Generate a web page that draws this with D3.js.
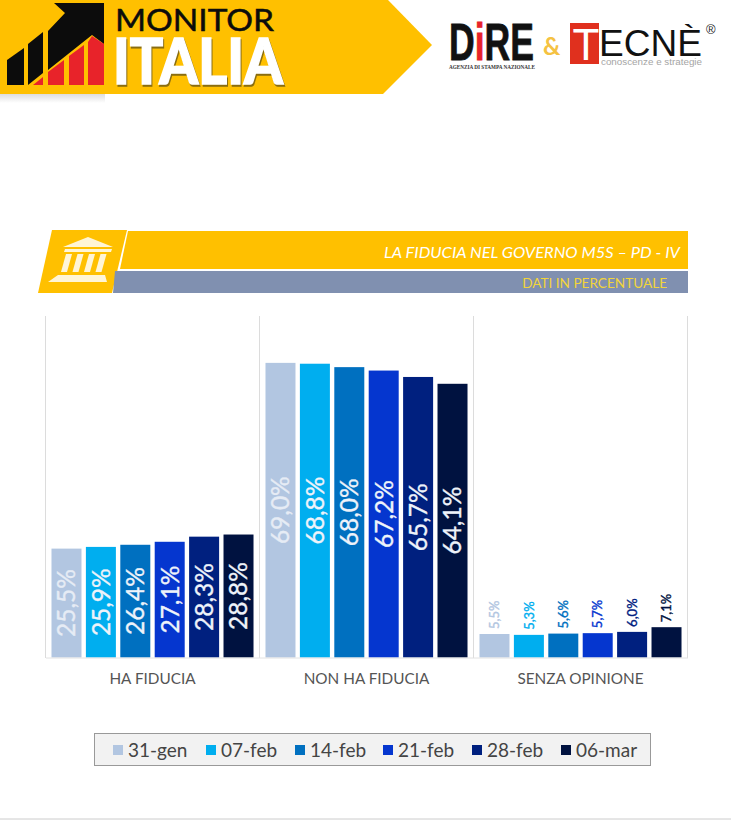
<!DOCTYPE html>
<html>
<head>
<meta charset="utf-8">
<script src="https://cdn.jsdelivr.net/npm/d3@7"></script>
<style>
html, body { margin: 0; padding: 0; background: #fff; }
svg { display: block; }
text { font-family: Lato, "Open Sans", sans-serif; }
</style>
</head>
<body>
<svg class="main" width="731" height="820"></svg>
<script>
var categories = ["HA FIDUCIA", "NON HA FIDUCIA", "SENZA OPINIONE"];
var dates = ["31-gen", "07-feb", "14-feb", "21-feb", "28-feb", "06-mar"];
var colors = ["#b2c6e1", "#00aeef", "#0070c0", "#0536cf", "#00207f", "#001240"];
var haFiducia = [25.5, 25.9, 26.4, 27.1, 28.3, 28.8];
var nonHaFiducia = [69.0, 68.8, 68.0, 67.2, 65.7, 64.1];
var senzaOpinione = [5.5, 5.3, 5.6, 5.7, 6.0, 7.1];
var legendX = [113, 206, 295, 383, 472, 561];

var series = [haFiducia, nonHaFiducia, senzaOpinione];
var yellow = "#ffc000";

var main = d3.select(".main");
var fmt = function(v) { return v.toFixed(1).replace(".", ",") + "%"; };

function poly(parent, pts, fill) {
    return parent.append("polygon")
        .attr("points", pts.map(function(p) { return p.join(","); }).join(" "))
        .attr("fill", fill);
}

/**
 * Header banner
 */
var header = main.append("g");
var defs = main.append("defs");
var shadow = defs.append("linearGradient").attr("id", "headShadow")
    .attr("x1", 0).attr("y1", 0).attr("x2", 0).attr("y2", 1);
shadow.append("stop").attr("offset", 0).attr("stop-color", "#bbb").attr("stop-opacity", 0.5);
shadow.append("stop").attr("offset", 1).attr("stop-color", "#bbb").attr("stop-opacity", 0);

header.append("rect").attr("x", 0).attr("y", 94).attr("width", 105).attr("height", 9)
    .attr("fill", "url(#headShadow)");
poly(header, [[0, 0], [388, 0], [432, 45], [383, 94], [0, 94]], yellow);

poly(header, [[7, 60], [24, 48], [24, 85], [7, 85]], "#0c0c0c");
poly(header, [[28, 44], [43, 32], [43, 73], [28, 85]], "#0c0c0c");
poly(header, [[48, 31], [65, 13], [54, 3], [104, 3], [104, 44], [92, 35], [48, 70]], "#0c0c0c");
poly(header, [[33, 85], [43, 77], [43, 85]], "#e8232a");
poly(header, [[48, 85], [48, 72], [64, 60], [64, 85]], "#e8232a");
poly(header, [[69, 85], [69, 56], [84, 45], [84, 85]], "#e8232a");
poly(header, [[88, 85], [88, 42], [92, 36], [104, 44], [104, 85]], "#e8232a");

header.append("text").text("MONITOR")
    .attr("x", 115).attr("y", 30.5)
    .attr("textLength", 159).attr("lengthAdjust", "spacingAndGlyphs")
    .attr("font-size", 30.5).attr("fill", "#0c0c0c")
    .attr("stroke", "#0c0c0c").attr("stroke-width", 0.5);
header.append("text").text("ITALIA")
    .attr("x", 113).attr("y", 83.5)
    .attr("textLength", 170).attr("lengthAdjust", "spacingAndGlyphs")
    .attr("font-size", 62).attr("font-weight", 900).attr("fill", "#fff")
    .attr("stroke", "#fff").attr("stroke-width", 1.5)
    .style("filter", "drop-shadow(1.5px 2px 0.5px #8a6d10)");

/**
 * Logos
 */
var dire = header.append("text")
    .attr("x", 449).attr("y", 60)
    .attr("textLength", 85).attr("lengthAdjust", "spacingAndGlyphs")
    .attr("font-size", 52).attr("font-weight", 700)
    .attr("stroke", "#111").attr("stroke-width", 0.8)
    .style("font-family", "'Liberation Sans', sans-serif")
    .attr("fill", "#111");
dire.append("tspan").text("D");
dire.append("tspan").text("i").attr("fill", "#e8232a").attr("stroke", "#e8232a");
dire.append("tspan").text("RE");
header.append("text").text("AGENZIA DI STAMPA NAZIONALE")
    .attr("x", 449).attr("y", 69)
    .attr("textLength", 86).attr("lengthAdjust", "spacingAndGlyphs")
    .attr("font-size", 6).attr("font-weight", 700)
    .style("font-family", "'Liberation Serif', serif")
    .attr("fill", "#333");
header.append("text").text("&")
    .attr("x", 543).attr("y", 55)
    .attr("font-size", 24).attr("font-weight", 700).attr("fill", "#f5c242");

header.append("rect").attr("x", 570).attr("y", 23).attr("width", 29).attr("height", 41).attr("fill", "#e0301e");
header.append("text").text("T")
    .attr("x", 586).attr("y", 60).attr("text-anchor", "middle")
    .attr("font-size", 44).attr("fill", "#fff")
    .style("font-family", "'Liberation Sans', sans-serif");
header.append("text").text("ECNÈ")
    .attr("x", 599).attr("y", 56)
    .attr("textLength", 103).attr("lengthAdjust", "spacingAndGlyphs")
    .attr("font-size", 36).attr("fill", "#111")
    .style("font-family", "'Liberation Sans', sans-serif");
header.append("text").text("®")
    .attr("x", 706).attr("y", 34)
    .attr("font-size", 13).attr("fill", "#222")
    .style("font-family", "'Liberation Sans', sans-serif");
header.append("text").text("conoscenze e strategie")
    .attr("x", 601).attr("y", 65)
    .attr("textLength", 101).attr("lengthAdjust", "spacingAndGlyphs")
    .attr("font-size", 9.5).attr("fill", "#a5a5a5")
    .style("font-family", "'Liberation Sans', sans-serif");

/**
 * Title band
 */
var band = main.append("g");
poly(band, [[52, 230], [127, 230], [112, 293], [38, 293]], yellow);
poly(band, [[128, 231], [688, 231], [688, 269], [120, 269]], yellow);
poly(band, [[115, 271], [688, 271], [688, 293], [113, 293]], "#8090b0");

// temple icon
poly(band, [[63, 247], [88, 237], [113, 247]], "#fff5d6");
poly(band, [[65, 249], [112, 249], [111, 252], [64, 252]], "#fff5d6");
[0, 1, 2, 3].forEach(function(i) {
    var x = 66 + i * 11.5;
    poly(band, [[x, 254], [x + 6, 254], [x + 1, 272], [x - 5, 272]], "#fff5d6");
});
poly(band, [[58, 275], [105, 275], [107, 282], [48, 282]], "#fff5d6");

band.append("text").text("LA FIDUCIA NEL GOVERNO M5S – PD - IV")
    .attr("x", 680).attr("y", 258).attr("text-anchor", "end")
    .attr("textLength", 296).attr("lengthAdjust", "spacingAndGlyphs")
    .attr("font-size", 15).attr("font-style", "italic")
    .attr("fill", "#fff");
band.append("text").text("DATI IN PERCENTUALE")
    .attr("x", 667).attr("y", 288).attr("text-anchor", "end")
    .attr("font-size", 13.6)
    .attr("fill", "#f2d43a");

/**
 * Chart
 */
var x0 = d3.scaleBand().domain(categories).range([45.5, 687.5]);
var x1 = d3.scaleBand().domain(dates).range([0, x0.bandwidth()])
    .paddingInner(0.128).paddingOuter(0.174);
var y = d3.scaleLinear().domain([0, 80]).range([657.5, 315.9]);

var chart = main.append("g");

chart.selectAll(".sep")
    .data(d3.range(categories.length + 1))
    .enter()
    .append("line")
    .attr("x1", function(i) { return 45.5 + i * x0.step(); })
    .attr("x2", function(i) { return 45.5 + i * x0.step(); })
    .attr("y1", 316).attr("y2", 658)
    .attr("stroke", "#dcdcdc");

var groups = chart.selectAll(".group")
    .data(categories)
    .enter()
    .append("g")
    .attr("class", "group")
    .attr("transform", function(d) { return "translate(" + x0(d) + ",0)"; });

groups.each(function(cat, g) {
    var sel = d3.select(this);
    var values = series[g];

    sel.selectAll("rect")
        .data(values)
        .enter()
        .append("rect")
        .attr("x", function(d, i) { return x1(dates[i]); })
        .attr("y", function(d) { return y(d); })
        .attr("width", x1.bandwidth())
        .attr("height", function(d) { return y(0) - y(d); })
        .attr("fill", function(d, i) { return colors[i]; });

    sel.selectAll("text")
        .data(values)
        .enter()
        .append("text")
        .text(fmt)
        .attr("transform", function(d, i) {
            var cx = x1(dates[i]) + x1.bandwidth() / 2;
            // small values don't fit, they go above the bar
            var py = d < 10 ? y(d) - 5 : (y(d) + y(0)) / 2;
            return "translate(" + cx + "," + py + ") rotate(-90)";
        })
        .attr("dy", "0.36em")
        .attr("text-anchor", function(d) { return d < 10 ? "start" : "middle"; })
        .attr("font-size", function(d) { return d < 10 ? 13 : 24.5; })
        .attr("stroke", "currentColor")
        .attr("stroke-width", 0.35)
        .style("color", function(d, i) {
            if (d >= 10) {
                return i === 0 ? "#e6ecf5" : "#eef3fa";
            }
            return colors[i];
        })
        .attr("fill", "currentColor");
});

var axis = chart.append("g")
    .attr("transform", "translate(0,657.5)")
    .call(d3.axisBottom(x0).tickSize(0).tickPadding(16));
axis.select(".domain").attr("stroke", "#e2e2e2");
axis.selectAll("text")
    .attr("font-size", 15.3)
    .attr("fill", "#555")
    .style("font-family", "Lato, sans-serif");

/**
 * Legend
 */
var legend = main.append("g");
legend.append("rect")
    .attr("x", 94.5).attr("y", 733.5).attr("width", 556).attr("height", 32)
    .attr("fill", "#f2f2f2").attr("stroke", "#999");

var items = legend.selectAll(".item")
    .data(dates)
    .enter()
    .append("g")
    .attr("class", "item")
    .attr("transform", function(d, i) { return "translate(" + legendX[i] + ",745)"; });

items.append("rect")
    .attr("width", 10).attr("height", 10)
    .attr("fill", function(d, i) { return colors[i]; });

items.append("text").text(function(d) { return d; })
    .attr("x", 15).attr("y", 11.5)
    .attr("font-size", 19).attr("fill", "#444");

main.append("line")
    .attr("x1", 0).attr("x2", 731).attr("y1", 819).attr("y2", 819)
    .attr("stroke", "#ccc");
</script>
</body>
</html>
